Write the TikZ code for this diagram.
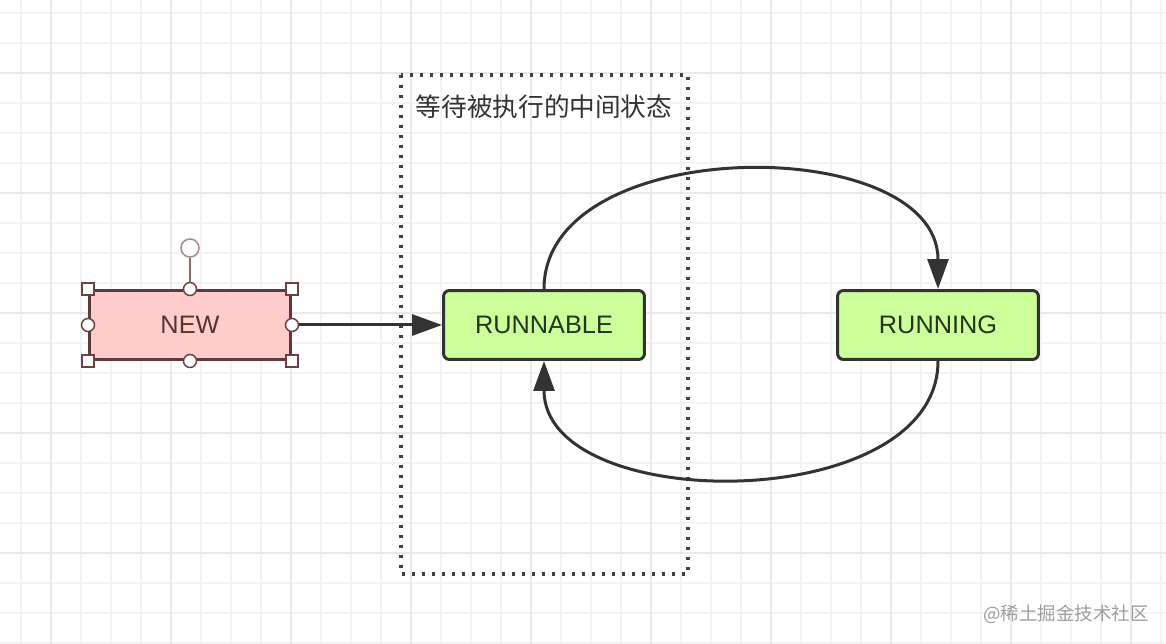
\documentclass[tikz,border=0pt]{standalone}
\usepackage{fontspec}
\setmainfont{Liberation Sans}
\newfontfamily\cjk{Noto Sans CJK SC}
\usetikzlibrary{calc,arrows.meta}

\definecolor{gridminor}{HTML}{F3F3F3}
\definecolor{gridmajor}{HTML}{E9E9E9}
\definecolor{newfill}{HTML}{FFCCCC}
\definecolor{newline}{HTML}{5E3A3A}
\definecolor{runfill}{HTML}{CCFF99}
\definecolor{runline}{HTML}{333333}
\definecolor{runtext}{HTML}{26331F}
\definecolor{handleline}{HTML}{6E4040}
\definecolor{rotline}{HTML}{A88888}

\begin{document}
\begin{tikzpicture}[x=0.02cm, y=-0.02cm,
    gridline/.style={gridminor, line width=0.035cm},
    statebox/.style={draw=runline, line width=0.06cm, fill=runfill, rounded corners=0.12cm,
      minimum width=4.02cm, minimum height=1.38cm, text=runtext,
      font=\fontsize{14.4pt}{17pt}\selectfont},
    newbox/.style={draw=newline, line width=0.06cm, fill=newfill,
      minimum width=4.02cm, minimum height=1.38cm, text=newline!90!black,
      font=\fontsize{14.4pt}{17pt}\selectfont},
    sqhandle/.style={draw=handleline, line width=0.03cm, fill=white, inner sep=0pt,
      minimum size=0.24cm},
    cirhandle/.style={circle, draw=handleline, line width=0.03cm, fill=white, inner sep=0pt,
      minimum size=0.26cm},
    flow/.style={runline, line width=0.06cm, -{Triangle[length=0.6cm, width=0.42cm]}}
  ]
  \useasboundingbox (0,0) rectangle (1166,644);
  \fill[white] (0,0) rectangle (1166,644);

  % background grid
  \foreach \x in {21,51,...,1161} \draw[gridline] (\x,0) -- (\x,644);
  \foreach \y in {13,43,...,643} \draw[gridline] (0,\y) -- (1166,\y);
  \foreach \x in {51,171,...,1131} \draw[gridline, gridmajor] (\x,0) -- (\x,644);
  \foreach \y in {73,193,...,553} \draw[gridline, gridmajor] (0,\y) -- (1166,\y);

  % waiting area
  \draw[black!75, line width=0.065cm, dash pattern=on 0.06cm off 0.14cm] (401,75) rectangle (688,574);
  \node[font=\cjk\fontsize{14.6pt}{17pt}\selectfont, text=black!80] (waitlabel) at (544,107) {等待被执行的中间状态};

  % states
  \node[newbox] (new) at (190,325) {NEW};
  \node[statebox] (runnable) at (544,325) {RUNNABLE};
  \node[statebox] (running) at (938,325) {RUNNING};

  \draw[flow] (new.east) -- (runnable.west);
  \draw[flow] (runnable.north) .. controls +(0,-157) and +(0,-157) .. (running.north);
  \draw[flow] (running.south) .. controls +(0,155) and +(0,155) .. (runnable.south);

  % selection handles
  \node[circle, draw=rotline, line width=0.03cm, fill=white, minimum size=0.36cm, inner sep=0pt] (rot) at (190,248) {};
  \draw[rotline!60!handleline, line width=0.03cm] (rot.south) -- (new.north);
  \foreach \a in {north west, north east, south west, south east}
    \node[sqhandle] (sq-\a) at (new.\a) {};
  \foreach \a in {north, south, east, west}
    \node[cirhandle] (ci-\a) at (new.\a) {};

  \node[font=\cjk\fontsize{10.5pt}{12pt}\selectfont, text=black!38] (mark) at (1066,614) {@稀土掘金技术社区};
\end{tikzpicture}
\end{document}
